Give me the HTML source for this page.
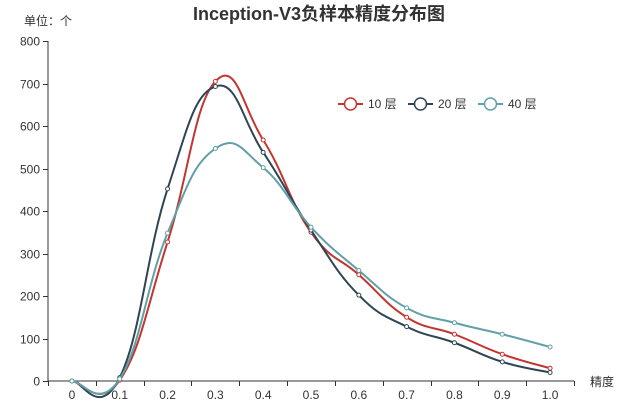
<!DOCTYPE html>
<html><head><meta charset="utf-8"><style>
body{margin:0;background:#fff;}
svg text{font-family:"Liberation Sans","Noto Sans CJK SC",sans-serif;}
</style></head><body>
<svg id="chart" width="638" height="414" xmlns="http://www.w3.org/2000/svg">
<text x="319" y="20" text-anchor="middle" font-size="18" font-weight="bold" fill="#333">Inception-V3负样本精度分布图</text>
<text x="24" y="25" font-size="12" fill="#333">单位：个</text>
<text x="590" y="386" font-size="12" fill="#333">精度</text>
<g id="axes"></g>
<g id="series"></g>
<g id="legend"></g>
</svg>
<script>
const categories = ["0","0.1","0.2","0.3","0.4","0.5","0.6","0.7","0.8","0.9","1.0"];
const yTicks = [0,100,200,300,400,500,600,700,800];
const seriesNames = ["10 层","20 层","40 层"];
const s10 = [0,2,327,705,567,350,250,150,110,63,30];
const s20 = [0,8,452,693,538,355,202,128,90,45,20];
const s40 = [0,5,348,547,502,362,260,172,137,110,80];
const colors = ["#c23531","#2f4554","#61a0a8"];
const NS="http://www.w3.org/2000/svg";
const x0=48,x1=574,yb=381,yt=41,ymax=800;
const band=(x1-x0)/categories.length;
const xs=i=>x0+band*(i+0.5);
const ys=v=>yb-(v/ymax)*(yb-yt);
function mk(tag,attrs,parent){const e=document.createElementNS(NS,tag);for(const k in attrs)e.setAttribute(k,attrs[k]);parent.appendChild(e);return e;}
const axes=document.getElementById('axes');
let e=mk('line',{x1:x0,y1:yt,x2:x0,y2:yb,stroke:'#333'},axes);


e=mk('line',{x1:x0,y1:yb,x2:x1,y2:yb,stroke:'#333'},axes);


yTicks.forEach(v=>{
  const y=Math.round(ys(v))+0.5;
  let t=mk('line',{x1:x0-5,y1:y,x2:x0,y2:y,stroke:'#333'},axes);
  
  
  let l=mk('text',{x:x0-8,y:y+4,'text-anchor':'end','font-size':12,fill:'#333'},axes);
  l.textContent=v;
  
  
});
for(let i=0;i<=categories.length;i++){
  const x=Math.round(x0+band*i)+0.5;
  let t=mk('line',{x1:x,y1:yb,x2:x,y2:yb+5,stroke:'#333'},axes);
  
  
}
categories.forEach((c,i)=>{
  let l=mk('text',{x:xs(i),y:yb+18,'text-anchor':'middle','font-size':12,fill:'#333'},axes);
  l.textContent=c;
  
  
});
function smoothPath(pts){
  let d=`M${pts[0][0]},${pts[0][1]}`;
  const s=0.22;
  for(let i=0;i<pts.length-1;i++){
    const p0=pts[Math.max(i-1,0)],p1=pts[i],p2=pts[i+1],p3=pts[Math.min(i+2,pts.length-1)];
    const c1=[p1[0]+(p2[0]-p0[0])*s,p1[1]+(p2[1]-p0[1])*s];
    const c2=[p2[0]-(p3[0]-p1[0])*s,p2[1]-(p3[1]-p1[1])*s];
    d+=` C${c1[0]},${c1[1]} ${c2[0]},${c2[1]} ${p2[0]},${p2[1]}`;
  }
  return d;
}
const sg=document.getElementById('series');
[s10,s20,s40].forEach((data,k)=>{
  const pts=data.map((v,i)=>[xs(i),ys(v)]);
  let p=mk('path',{d:smoothPath(pts),fill:'none',stroke:colors[k],'stroke-width':2},sg);
  
  
  pts.forEach(pt=>{
    let c=mk('circle',{cx:pt[0],cy:pt[1],r:2,fill:'#fff',stroke:colors[k],'stroke-width':1},sg);
    
    
  });
});
const lg=document.getElementById('legend');
const lx=[338,408,478];
seriesNames.forEach((n,k)=>{
  const g=mk('g',{},lg);
  
  
  mk('line',{x1:lx[k],y1:104,x2:lx[k]+25,y2:104,stroke:colors[k],'stroke-width':2},g);
  mk('circle',{cx:lx[k]+12.5,cy:104,r:6,fill:'#fff',stroke:colors[k],'stroke-width':1.5},g);
  const t=mk('text',{x:lx[k]+30,y:108,'font-size':12,fill:'#333'},g);
  t.textContent=n;
});
</script>
</body></html>
